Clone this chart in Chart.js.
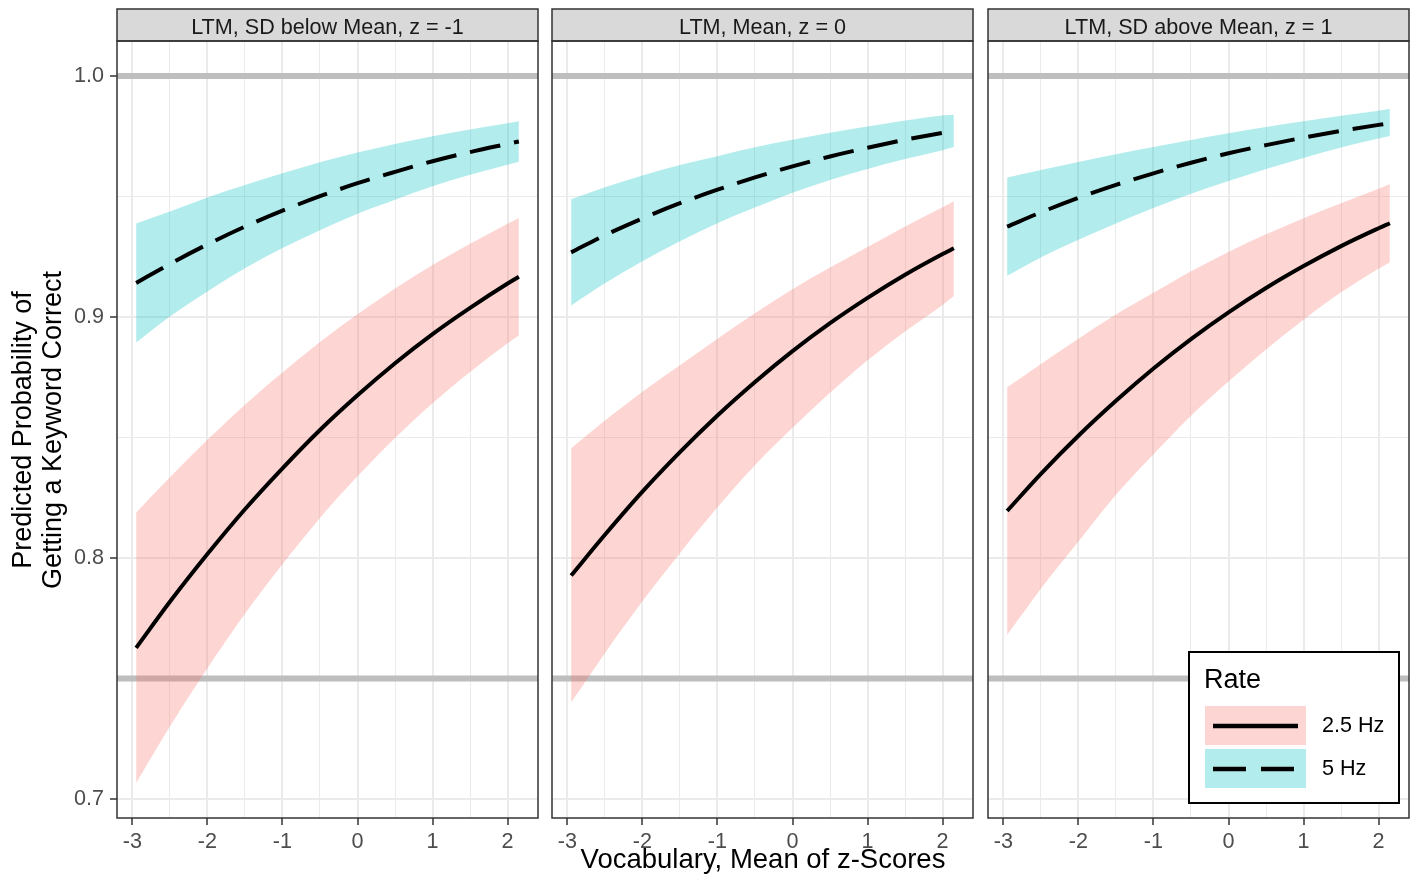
<!DOCTYPE html>
<html>
<head>
<meta charset="utf-8">
<script src="https://cdn.jsdelivr.net/npm/chart.js@4.4.0/dist/chart.umd.min.js"></script>
<style>
html, body { margin:0; padding:0; background:#fff; }
#wrap { position:relative; width:1415px; height:874px; overflow:hidden; font-family:"Liberation Sans", Arial, sans-serif; background:#fff; }
#wrap canvas { position:absolute; top:0; }
.ytitle { position:absolute; left:-183px; top:400px; width:440px; height:60px; line-height:30px; font-size:27px; text-align:center; transform:rotate(-90deg); color:#000; white-space:nowrap; }
.xtitle { position:absolute; left:413px; top:845px; width:700px; line-height:27px; font-size:27.5px; text-align:center; color:#000; white-space:nowrap; }
</style>
</head>
<body>
<div id="wrap">
  <canvas id="c1" width="545" height="874" style="left:0px"></canvas>
  <canvas id="c2" width="435" height="874" style="left:545px"></canvas>
  <canvas id="c3" width="435" height="874" style="left:980px"></canvas>
  <div class="ytitle">Predicted Probability of<br>Getting a Keyword Correct</div>
  <div class="xtitle">Vocabulary, Mean of z-Scores</div>
</div>
<script>
// ---------- data ----------
const panelTitles = ['LTM, SD below Mean, z = -1', 'LTM, Mean, z = 0', 'LTM, SD above Mean, z = 1'];
const seriesNames = ['2.5 Hz', '5 Hz'];
const legendTitle = 'Rate';

const xVals = [-2.95, -2.5, -2, -1.5, -1, -0.5, 0, 0.5, 1, 1.5, 2, 2.15];

const xTicks = [-3, -2.5, -2, -1.5, -1, -0.5, 0, 0.5, 1, 1.5, 2];
const xTickLabels = ['-3', '', '-2', '', '-1', '', '0', '', '1', '', '2'];
const yTicks = [0.7, 0.75, 0.8, 0.85, 0.9, 0.95, 1.0];
const yTickLabels = ['0.7', '', '0.8', '', '0.9', '', '1.0'];
const refLines = [1.0, 0.75];
const xLimits = [-3.205, 2.405];
const yLimits = [0.6921, 1.0145];

// Panel 1: LTM z = -1
const p1Fit25 = [0.7627, 0.7818, 0.8016, 0.8202, 0.8372, 0.8531, 0.8675, 0.8808, 0.8929, 0.9038, 0.9139, 0.9167];
const p1Hi25  = [0.8188, 0.8335, 0.8490, 0.8636, 0.8770, 0.8896, 0.9011, 0.9118, 0.9216, 0.9304, 0.9387, 0.9411];
const p1Lo25  = [0.7066, 0.7301, 0.7542, 0.7768, 0.7974, 0.8166, 0.8339, 0.8498, 0.8642, 0.8772, 0.8891, 0.8923];
const p1Fit5  = [0.9141, 0.9220, 0.9301, 0.9375, 0.9441, 0.9501, 0.9555, 0.9602, 0.9646, 0.9684, 0.9718, 0.9728];
const p1Hi5   = [0.9388, 0.9438, 0.9496, 0.9548, 0.9596, 0.9642, 0.9682, 0.9718, 0.9750, 0.9778, 0.9804, 0.9812];
const p1Lo5   = [0.8894, 0.9002, 0.9106, 0.9202, 0.9286, 0.9360, 0.9428, 0.9486, 0.9542, 0.9590, 0.9632, 0.9644];

// Panel 2: LTM z = 0
const p2Fit25 = [0.7927, 0.8096, 0.8275, 0.8439, 0.8591, 0.8730, 0.8858, 0.8974, 0.9079, 0.9175, 0.9261, 0.9285];
const p2Hi25  = [0.8455, 0.8570, 0.8690, 0.8800, 0.8910, 0.9015, 0.9115, 0.9205, 0.9290, 0.9375, 0.9455, 0.9480];
const p2Lo25  = [0.7400, 0.7605, 0.7820, 0.8020, 0.8210, 0.8385, 0.8540, 0.8685, 0.8820, 0.8940, 0.9050, 0.9087];
const p2Fit5  = [0.9268, 0.9339, 0.9409, 0.9472, 0.9528, 0.9579, 0.9625, 0.9666, 0.9702, 0.9735, 0.9764, 0.9772];
const p2Hi5   = [0.9488, 0.9538, 0.9587, 0.9630, 0.9667, 0.9704, 0.9735, 0.9764, 0.9790, 0.9815, 0.9836, 0.9839];
const p2Lo5   = [0.9048, 0.9140, 0.9231, 0.9314, 0.9389, 0.9454, 0.9515, 0.9568, 0.9614, 0.9655, 0.9692, 0.9705];

// Panel 3: LTM z = 1
const p3Fit25 = [0.8195, 0.8349, 0.8507, 0.8652, 0.8786, 0.8908, 0.9019, 0.9120, 0.9211, 0.9294, 0.9368, 0.9389];
const p3Hi25  = [0.8708, 0.8805, 0.8910, 0.9010, 0.9100, 0.9190, 0.9270, 0.9343, 0.9410, 0.9472, 0.9532, 0.9552];
const p3Lo25  = [0.7680, 0.7872, 0.8068, 0.8262, 0.8430, 0.8590, 0.8732, 0.8865, 0.8988, 0.9102, 0.9200, 0.9226];
const p3Fit5  = [0.9375, 0.9434, 0.9494, 0.9548, 0.9596, 0.9640, 0.9679, 0.9713, 0.9744, 0.9772, 0.9797, 0.9804];
const p3Hi5   = [0.9579, 0.9610, 0.9643, 0.9675, 0.9705, 0.9734, 0.9762, 0.9788, 0.9812, 0.9835, 0.9856, 0.9863];
const p3Lo5   = [0.9171, 0.9247, 0.9320, 0.9388, 0.9452, 0.9511, 0.9564, 0.9614, 0.9660, 0.9703, 0.9740, 0.9751];

// ---------- styling ----------
const FONT = '"Liberation Sans", Arial, sans-serif';
const PINK = 'rgba(248,118,109,0.3)';
const CYAN = 'rgba(0,191,196,0.3)';
const CLEAR = 'rgba(0,0,0,0)';

const pts = arr => xVals.map((x, i) => ({ x: x, y: arr[i] }));
const isMajorX = v => { const i = xTicks.findIndex(t => Math.abs(t - v) < 1e-9); return i >= 0 && xTickLabels[i] !== ''; };
const isMajorY = v => { const i = yTicks.findIndex(t => Math.abs(t - v) < 1e-9); return i >= 0 && yTickLabels[i] !== ''; };

function lineDs(label, arr, dash) {
  return { label, data: pts(arr), borderColor: '#000', borderWidth: 4, borderDash: dash || [],
    pointRadius: 0, fill: false, cubicInterpolationMode: 'monotone', order: 0 };
}
function bandDs(label, arr, color, fillPrev) {
  return { label, data: pts(arr), borderColor: CLEAR, borderWidth: 0, pointRadius: 0,
    backgroundColor: color, fill: fillPrev ? '-1' : false, cubicInterpolationMode: 'monotone', order: 2 };
}
function refDs(y) {
  return { label: 'ref ' + y, data: [{ x: xLimits[0], y: y }, { x: xLimits[1], y: y }],
    borderColor: '#BEBEBE', borderWidth: 6, pointRadius: 0, fill: false, order: 5 };
}

const decor = {
  id: 'decor',
  afterDraw(chart, args, opts) {
    const ctx = chart.ctx, a = chart.chartArea;
    ctx.save();
    // facet strip
    ctx.fillStyle = '#D9D9D9';
    ctx.fillRect(a.left, 9, a.right - a.left, a.top - 9);
    ctx.strokeStyle = '#333333';
    ctx.lineWidth = 1.5;
    ctx.strokeRect(a.left, 9, a.right - a.left, a.top - 9);
    ctx.fillStyle = '#1A1A1A';
    ctx.font = '21.6px ' + FONT;
    ctx.textAlign = 'center';
    ctx.textBaseline = 'alphabetic';
    ctx.fillText(opts.title, (a.left + a.right) / 2, 33.5);
    // legend
    if (opts.legend) {
      const bl = a.right - 220, bt = 652, bw = 210, bh = 151;
      ctx.fillStyle = '#fff';
      ctx.fillRect(bl, bt, bw, bh);
      ctx.fillStyle = '#000';
      ctx.font = '27px ' + FONT;
      ctx.textAlign = 'left';
      ctx.fillText(legendTitle, bl + 15, 688);
      const keys = [{ c: PINK, y: 706, dash: [] }, { c: CYAN, y: 749, dash: [33, 15] }];
      keys.forEach((k, i) => {
        ctx.fillStyle = k.c;
        ctx.fillRect(bl + 16, k.y, 101, 39);
        ctx.strokeStyle = '#000';
        ctx.lineWidth = 4.5;
        ctx.setLineDash(k.dash);
        ctx.beginPath();
        ctx.moveTo(bl + 24, k.y + 20);
        ctx.lineTo(bl + 109, k.y + 20);
        ctx.stroke();
        ctx.setLineDash([]);
        ctx.fillStyle = '#000';
        ctx.font = '21.6px ' + FONT;
        ctx.textBaseline = 'middle';
        ctx.fillText(seriesNames[i], bl + 133, k.y + 20);
        ctx.textBaseline = 'alphabetic';
      });
      ctx.strokeStyle = '#000';
      ctx.lineWidth = 2;
      ctx.strokeRect(bl, bt, bw, bh);
    }
    // panel border
    ctx.strokeStyle = '#333333';
    ctx.lineWidth = 1.5;
    ctx.strokeRect(a.left, a.top, a.right - a.left, a.bottom - a.top);
    ctx.restore();
  }
};

function makePanel(id, idx, fit25, lo25, hi25, fit5, lo5, hi5, leftW, rightPad, showY, legend) {
  const datasets = [
    lineDs(seriesNames[0], fit25),
    lineDs(seriesNames[1], fit5, [31, 14]),
    bandDs(seriesNames[0] + ' lower', lo25, PINK, false),
    bandDs(seriesNames[0] + ' upper', hi25, PINK, true),
    bandDs(seriesNames[1] + ' lower', lo5, CYAN, false),
    bandDs(seriesNames[1] + ' upper', hi5, CYAN, true),
    refDs(refLines[0]),
    refDs(refLines[1])
  ];
  return new Chart(document.getElementById(id), {
    type: 'line',
    data: { datasets },
    plugins: [decor],
    options: {
      responsive: false,
      animation: false,
      devicePixelRatio: 1,
      layout: { padding: { left: 0, right: rightPad, top: 41, bottom: 0 } },
      plugins: {
        legend: { display: false },
        tooltip: { enabled: false },
        decor: { title: panelTitles[idx], legend: legend }
      },
      scales: {
        x: {
          type: 'linear', min: xLimits[0], max: xLimits[1],
          afterBuildTicks: s => { s.ticks = xTicks.map(v => ({ value: v })); },
          afterFit: s => { s.height = 56; },
          border: { display: false },
          grid: {
            color: '#EBEBEB',
            lineWidth: c => (c.tick && isMajorX(c.tick.value)) ? 2 : 1,
            tickColor: c => (c.tick && isMajorX(c.tick.value)) ? '#333333' : CLEAR,
            tickWidth: 1.5,
            tickLength: 7
          },
          ticks: {
            autoSkip: false, maxRotation: 0, padding: 4,
            color: '#4D4D4D', font: { family: FONT, size: 21.6 },
            callback: (v, i) => xTickLabels[i]
          }
        },
        y: {
          type: 'linear', min: yLimits[0], max: yLimits[1],
          afterBuildTicks: s => { s.ticks = yTicks.map(v => ({ value: v })); },
          afterFit: s => { s.width = leftW; },
          border: { display: false },
          grid: {
            color: '#EBEBEB',
            lineWidth: c => (c.tick && isMajorY(c.tick.value)) ? 2 : 1,
            tickColor: c => (c.tick && isMajorY(c.tick.value)) ? '#333333' : CLEAR,
            tickWidth: 1.5,
            tickLength: 7,
            drawTicks: showY
          },
          ticks: {
            display: showY, autoSkip: false, padding: 6,
            color: '#4D4D4D', font: { family: FONT, size: 21.6 },
            callback: (v, i) => yTickLabels[i]
          }
        }
      }
    }
  });
}

makePanel('c1', 0, p1Fit25, p1Lo25, p1Hi25, p1Fit5, p1Lo5, p1Hi5, 117, 7, true, false);
makePanel('c2', 1, p2Fit25, p2Lo25, p2Hi25, p2Fit5, p2Lo5, p2Hi5, 7, 7, false, false);
makePanel('c3', 2, p3Fit25, p3Lo25, p3Hi25, p3Fit5, p3Lo5, p3Hi5, 8, 6, false, true);
</script>
</body>
</html>
